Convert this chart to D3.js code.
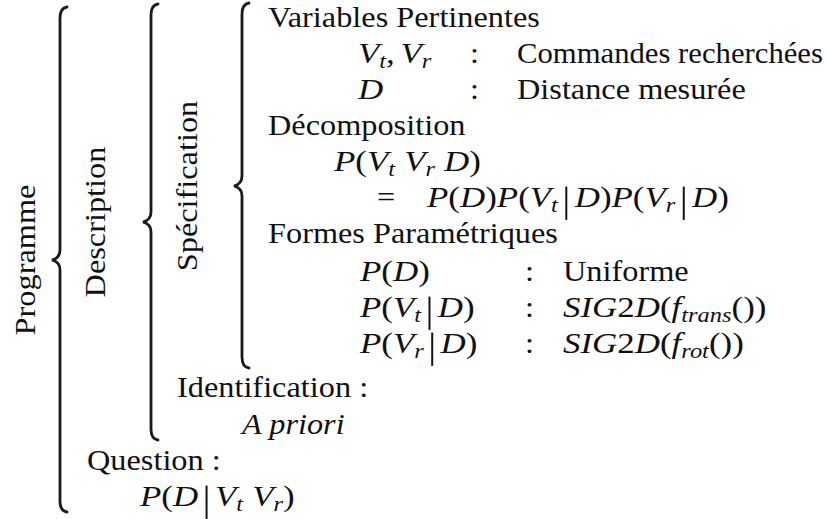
<!DOCTYPE html>
<html>
<head>
<meta charset="utf-8">
<script src="https://cdn.jsdelivr.net/npm/d3@7"></script>
<style>
body { margin: 0; background: #fff; }
</style>
</head>
<body>
<svg id="mainsvg" width="826" height="519"></svg>
<script>
// content of the bayesian program (strings between $ are math)
var blockTitles = ["Programme", "Description", "Spécification"];
var sectionTitles = ["Variables Pertinentes", "Décomposition", "Formes Paramétriques", "Identification :", "Question :"];
var varSymbols = ["$V_t, V_r$", "$D$"];
var varMeanings = ["Commandes recherchées", "Distance mesurée"];
var jointDist = "$P(V_t V_r D)$";
var decomposition = "$P(D)P(V_t|D)P(V_r|D)$";
var formTerms = ["$P(D)$", "$P(V_t|D)$", "$P(V_r|D)$"];
var formShapes = ["Uniforme", "$SIG2D(f_{trans}())$", "$SIG2D(f_{rot}())$"];
var identification = "A priori";
var question = "$P(D|V_t V_r)$";

// layout
var FONT = "Liberation Serif";
var FS = 30;
var MX = 1.08; // math is set a little wider than text
var RIGHT = 823;
var braceX = [60, 151, 242];
var braceY = [[7, 260, 512], [4, 222, 440], [3, 186, 368]]; // top, tip, bottom
var titleX = [35, 105, 197];
var rowY = [27, 63, 99, 135, 171, 207, 243, 281, 317, 353, 397, 434, 470, 506];

var svg = d3.select("#mainsvg");

// widen the glyphs so that the first heading spans the same width as in the original
var probe = svg.append("text")
	.attr("font-family", FONT)
	.style("font-size", FS + "px")
	.text(sectionTitles[0]);
var SX = 272 / probe.node().getComputedTextLength();
if (!(SX > 0.8 && SX < 1.3)) SX = 1.06;
probe.remove();

function parseMath(s) {
	var out = [], i = 0;
	while (i < s.length) {
		var c = s[i];
		if (c === "_") {
			var sub;
			if (s[i + 1] === "{") { var j = s.indexOf("}", i); sub = s.slice(i + 2, j); i = j + 1; }
			else { sub = s[i + 1]; i += 2; }
			out.push({t: sub, it: true, sub: true});
			continue;
		}
		if (c === "|") { out.push({bar: true}); i++; continue; }
		if (c === " ") { out.push({space: 0.26}); i++; continue; }
		if (c === ",") {
			out.push({t: ",", it: false, lone: true});
			out.push({space: 0.16});
			i++;
			if (s[i] === " ") i++;
			continue;
		}
		var it = /[A-Za-z]/.test(c);
		var last = out[out.length - 1];
		if (last && last.t !== undefined && !last.sub && !last.lone && last.it === it) last.t += c;
		else out.push({t: c, it: it});
		i++;
	}
	return out;
}

function typeset(g, pieces) {
	var x = 0;
	pieces.forEach(function(p) {
		if (p.space) { x += p.space * FS; return; }
		if (p.bar) {
			x += 0.24 * FS;
			g.append("line")
				.attr("x1", x).attr("x2", x)
				.attr("y1", -0.68 * FS).attr("y2", 0.43 * FS)
				.attr("stroke", "#111")
				.attr("stroke-width", 1.7);
			x += 0.24 * FS;
			return;
		}
		var t = g.append("text")
			.attr("x", x)
			.attr("y", p.sub ? 0.17 * FS : 0)
			.attr("font-family", FONT)
			.attr("fill", "#111")
			.style("font-size", (p.sub ? 0.7 * FS : FS) + "px")
			.style("font-style", p.it ? "italic" : "normal")
			.text(p.t);
		x += t.node().getComputedTextLength();
	});
	return x;
}

function put(x, y, str, italic) {
	var g = svg.append("g");
	var k = SX;
	if (str[0] === "$") {
		typeset(g, parseMath(str.slice(1, -1)));
		k = SX * MX;
	} else {
		g.append("text")
			.attr("font-family", FONT)
			.attr("fill", "#111")
			.style("font-size", FS + "px")
			.style("font-style", italic ? "italic" : "normal")
			.text(str);
	}
	// keep the line inside the page
	var w = g.node().getBBox().width;
	if (x + w * k > RIGHT) k = (RIGHT - x) / w;
	g.attr("transform", "translate(" + x + "," + y + ") scale(" + k + ",1)");
	return g;
}

function bracePath(x, top, tip, bot) {
	var p = d3.path();
	p.moveTo(x + 7, top);
	p.quadraticCurveTo(x, top + 1, x, top + 11);
	p.lineTo(x, tip - 10);
	p.quadraticCurveTo(x, tip - 2, x - 8, tip);
	p.quadraticCurveTo(x, tip + 2, x, tip + 10);
	p.lineTo(x, bot - 11);
	p.quadraticCurveTo(x, bot - 1, x + 7, bot);
	return p.toString();
}

// braces and rotated titles
blockTitles.forEach(function(d, i) {
	var b = braceY[i];
	svg.append("path")
		.attr("d", bracePath(braceX[i], b[0], b[1], b[2]))
		.attr("fill", "none")
		.attr("stroke", "#1a1a1a")
		.attr("stroke-width", 2.8)
		.attr("stroke-linecap", "round");
	svg.append("text")
		.attr("transform", "translate(" + titleX[i] + "," + b[1] + ") rotate(-90) scale(" + SX + ",1)")
		.attr("text-anchor", "middle")
		.attr("font-family", FONT)
		.attr("fill", "#111")
		.style("font-size", FS + "px")
		.text(d);
});

// Spécification
put(268, rowY[0], sectionTitles[0]);
varSymbols.forEach(function(d, i) {
	put(358, rowY[1 + i], d);
	put(470, rowY[1 + i], ":");
	put(517, rowY[1 + i], varMeanings[i]);
});
put(268, rowY[3], sectionTitles[1]);
put(334, rowY[4], jointDist);
put(377, rowY[5], "=");
put(427, rowY[5], decomposition);
put(268, rowY[6], sectionTitles[2]);
formTerms.forEach(function(d, i) {
	put(360, rowY[7 + i], d);
	put(525, rowY[7 + i], ":");
	put(563, rowY[7 + i], formShapes[i]);
});

// Identification
put(177, rowY[10], sectionTitles[3]);
put(242, rowY[11], identification, true);

// Question
put(87, rowY[12], sectionTitles[4]);
put(140, rowY[13], question);
</script>
</body>
</html>
